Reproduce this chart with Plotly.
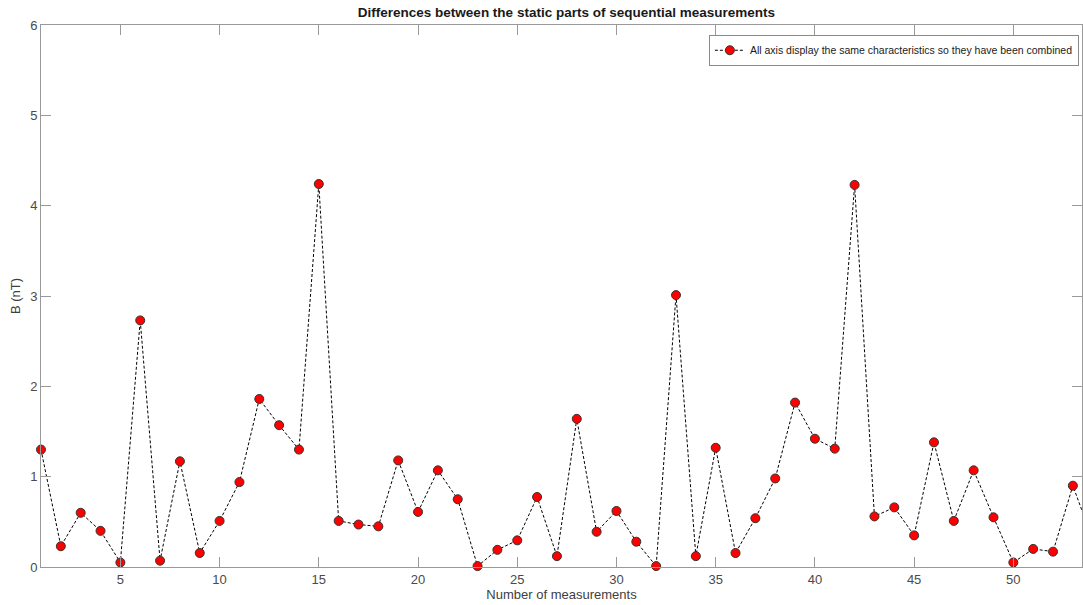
import plotly.graph_objects as go

# Measurement index and difference magnitude (nT)
measurement = list(range(1, 55))
b_diff = [
    1.30, 0.23, 0.60, 0.40, 0.05, 2.73, 0.07, 1.17, 0.155, 0.51,
    0.94, 1.86, 1.57, 1.30, 4.24, 0.51, 0.47, 0.45, 1.18, 0.61,
    1.07, 0.75, 0.01, 0.19, 0.295, 0.775, 0.12, 1.64, 0.39, 0.62,
    0.28, 0.01, 3.01, 0.12, 1.32, 0.155, 0.54, 0.98, 1.82, 1.42,
    1.31, 4.23, 0.56, 0.66, 0.35, 1.38, 0.51, 1.07, 0.55, 0.05,
    0.20, 0.17, 0.90, 0.30,
]
x_ticks = [5, 10, 15, 20, 25, 30, 35, 40, 45, 50]
y_ticks = [0, 1, 2, 3, 4, 5, 6]

series_name = "All axis display the same characteristics so they have been combined"

fig = go.Figure()
fig.add_trace(go.Scatter(
    x=measurement,
    y=b_diff,
    mode="lines+markers",
    name=series_name,
    cliponaxis=False,
    line=dict(color="black", width=1, dash="3px,2px"),
    marker=dict(size=9, color="#ff0000", line=dict(color="#333333", width=1)),
))

axis_common = dict(
    showgrid=False,
    zeroline=False,
    showline=True,
    linecolor="#9a9a9a",
    linewidth=1,
    mirror="ticks",
    ticks="inside",
    ticklen=10,
    tickwidth=1,
    tickcolor="#9a9a9a",
    tickfont=dict(family="Arial, Liberation Sans", size=13, color="#4a4a4a"),
)

fig.update_xaxes(
    range=[1, 53.46],
    tickvals=x_ticks,
    title=dict(text="Number of measurements", standoff=4,
               font=dict(family="Arial, Liberation Sans", size=13, color="#404040")),
    **axis_common,
)
fig.update_yaxes(
    range=[0, 6],
    tickvals=y_ticks,
    title=dict(text="B (nT)", standoff=6,
               font=dict(family="Arial, Liberation Sans", size=13, color="#404040")),
    **axis_common,
)

fig.update_layout(
    width=1083,
    height=605,
    margin=dict(l=41, r=1, t=25, b=38),
    paper_bgcolor="white",
    plot_bgcolor="white",
    title=dict(
        text="<b>Differences between the static parts of sequential measurements</b>",
        x=0.523, xanchor="center", y=0.979, yanchor="middle",
        font=dict(family="Arial, Liberation Sans", size=13.5, color="#1a1a1a"),
    ),
    showlegend=True,
    legend=dict(
        x=0.997, xanchor="right", y=0.982, yanchor="top",
        bgcolor="white", bordercolor="#8a8a8a", borderwidth=1,
        font=dict(family="Arial, Liberation Sans", size=10.5, color="#1a1a1a"),
        itemwidth=30, tracegroupgap=0,
    ),
)

fig.write_html("out.html")
